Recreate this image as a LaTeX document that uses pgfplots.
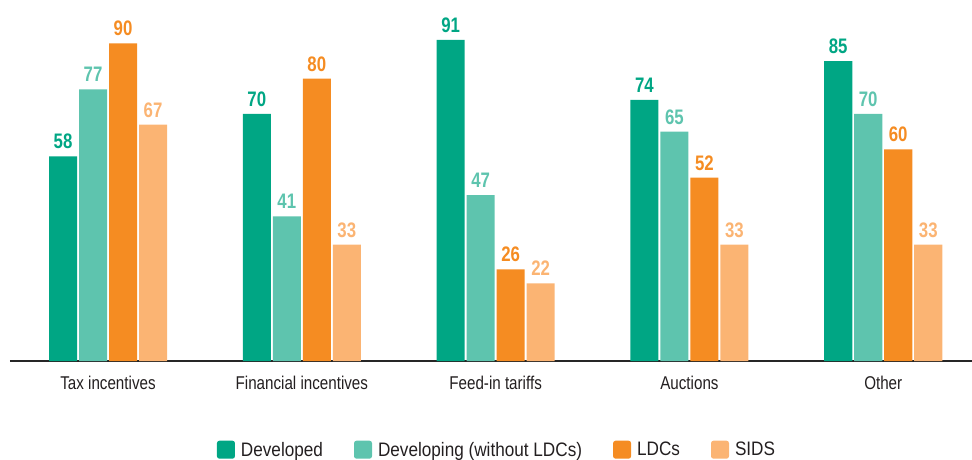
\documentclass[border=0pt]{standalone}
\usepackage{fontspec}
\setmainfont{Liberation Sans}
\newfontfamily\tickfont{Liberation Sans}[FakeStretch=0.82]
\newfontfamily\legfont{Liberation Sans}[FakeStretch=0.88]
\newfontfamily\numfont{Liberation Sans}[FakeStretch=0.8]
\usepackage{pgfplots}
\pgfplotsset{compat=1.18}

\definecolor{cdev}{RGB}{0,166,132}
\definecolor{cdvg}{RGB}{94,196,174}
\definecolor{cldc}{RGB}{245,140,34}
\definecolor{csids}{RGB}{251,180,115}
\definecolor{txt}{RGB}{35,31,32}

\pgfplotsset{
  sq legend/.style={legend image code/.code={
    \fill[##1, rounded corners=2.5pt] (0pt,-9pt) rectangle (18pt,9pt);}},
}

\begin{document}
\begin{tikzpicture}
\begin{axis}[
    name=ax,
    scale only axis,
    width=962pt, height=361pt,
    xmin=-0.5057, xmax=4.458,
    ymin=0, ymax=102.3,
    ybar, bar width=0.1445,
    axis x line*=bottom,
    axis y line=none,
    x axis line style={-, draw=black!85, line width=1.3pt},
    ytick=\empty,
    xtick={0,1,2,3,4},
    xticklabels={Tax incentives, Financial incentives, Feed-in tariffs, Auctions, Other},
    major tick length=0pt,
    xticklabel style={anchor=base, yshift=-28pt, text=txt,
        font=\tickfont\fontsize{18.5}{20}\selectfont},
    clip=false,
    /pgf/number format/assume math mode=true,
    nodes near coords,
    every node near coord/.append style={anchor=base, yshift=7.5pt,
        font=\numfont\bfseries\fontsize{21}{22}\selectfont},
    sq legend,
    legend columns=-1,
    legend style={at={(0.5052,-0.2457)}, anchor=center, draw=none, fill=none,
        inner sep=0pt, text=txt,
        font=\legfont\fontsize{19.5}{21}\selectfont,
        nodes={inner sep=0pt},
        /tikz/every odd column/.append style={column sep=6pt},
        /tikz/every even column/.append style={column sep=31pt}},
]

% Developed
\addplot[fill=cdev, draw=none, bar shift=-0.2322, sq legend,
    every node near coord/.append style={text=cdev}]
    coordinates {(0,58) (1,70) (2,91) (3,74) (4,85)};
\addlegendentry{Developed}

% Developing (without LDCs)
\addplot[fill=cdvg, draw=none, bar shift=-0.0774, sq legend,
    every node near coord/.append style={text=cdvg}]
    coordinates {(0,77) (1,41) (2,47) (3,65) (4,70)};
\addlegendentry{Developing (without LDCs)}

% LDCs
\addplot[fill=cldc, draw=none, bar shift=0.0774, sq legend,
    every node near coord/.append style={text=cldc}]
    coordinates {(0,90) (1,80) (2,26) (3,52) (4,60)};
\addlegendentry{LDCs}

% SIDS
\addplot[fill=csids, draw=none, bar shift=0.2322, sq legend,
    every node near coord/.append style={text=csids}]
    coordinates {(0,67) (1,33) (2,22) (3,33) (4,33)};
\addlegendentry{SIDS}

\end{axis}
\pgfresetboundingbox
\path[use as bounding box] ([xshift=-10pt,yshift=-98pt]ax.south west) rectangle (ax.north east);
\end{tikzpicture}
\end{document}
